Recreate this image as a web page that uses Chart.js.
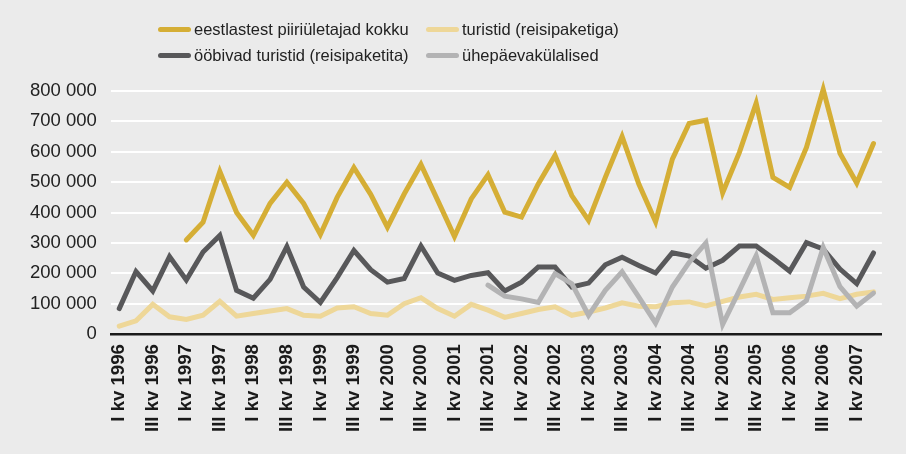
<!DOCTYPE html>
<html>
<head>
<meta charset="utf-8">
<script src="https://cdn.jsdelivr.net/npm/chart.js@4/dist/chart.umd.min.js"></script>
<style>
  body { margin: 0; background: #ebebeb; }
  #wrap { position: relative; width: 906px; height: 454px; }
  #legend { position: absolute; left: 158px; top: 19px; display: grid; grid-template-columns: 268px 200px; row-gap: 5px;
            font-family: "Liberation Sans", Arial, sans-serif; font-size: 16.5px; color: #222; }
  .item { display: flex; align-items: center; height: 21px; white-space: nowrap; }
  .sw { width: 33px; height: 5px; border-radius: 3px; margin-right: 3px; }
</style>
</head>
<body>
<div id="wrap">
  <canvas id="c"></canvas>
  <div id="legend"></div>
</div>
<script>
var quarters = [
  'I kv 1996','II kv 1996','III kv 1996','IV kv 1996',
  'I kv 1997','II kv 1997','III kv 1997','IV kv 1997',
  'I kv 1998','II kv 1998','III kv 1998','IV kv 1998',
  'I kv 1999','II kv 1999','III kv 1999','IV kv 1999',
  'I kv 2000','II kv 2000','III kv 2000','IV kv 2000',
  'I kv 2001','II kv 2001','III kv 2001','IV kv 2001',
  'I kv 2002','II kv 2002','III kv 2002','IV kv 2002',
  'I kv 2003','II kv 2003','III kv 2003','IV kv 2003',
  'I kv 2004','II kv 2004','III kv 2004','IV kv 2004',
  'I kv 2005','II kv 2005','III kv 2005','IV kv 2005',
  'I kv 2006','II kv 2006','III kv 2006','IV kv 2006',
  'I kv 2007','II kv 2007'
];

// eestlastest piiriületajad kokku
var kokku = [null, null, null, null,
  310000, 368000, 535000, 400000,
  325000, 430000, 500000, 430000,
  328000, 450000, 548000, 460000,
  352000, 461000, 558000, 440000,
  321000, 445000, 524000, 401000,
  385000, 494000, 588000, 456000,
  374000, 516000, 650000, 494000,
  370000, 576000, 693000, 704000,
  465000, 598000, 760000, 516000,
  483000, 614000, 805000, 595000,
  497000, 627000];

// turistid (reisipaketiga)
var paketiga = [26000, 44000, 98000, 57000,
  48000, 62000, 108000, 59000,
  68000, 76000, 84000, 62000,
  59000, 86000, 90000, 68000,
  62000, 100000, 120000, 84000,
  59000, 98000, 79000, 55000,
  68000, 81000, 90000, 62000,
  73000, 86000, 103000, 92000,
  90000, 103000, 106000, 93000,
  108000, 122000, 131000, 114000,
  120000, 125000, 134000, 117000,
  131000, 139000];

// ööbivad turistid (reisipaketita)
var paketita = [84000, 206000, 142000, 255000,
  178000, 270000, 325000, 144000,
  118000, 180000, 288000, 155000,
  104000, 186000, 275000, 212000,
  171000, 183000, 290000, 201000,
  177000, 193000, 202000, 142000,
  171000, 221000, 221000, 155000,
  168000, 228000, 253000, 226000,
  201000, 268000, 257000, 217000,
  243000, 290000, 290000, 250000,
  207000, 301000, 280000, 214000,
  166000, 267000];

// ühepäevakülalised
var paevased = [null, null, null, null, null, null, null, null, null, null,
  null, null, null, null, null, null, null, null, null, null, null, null,
  161000, 125000, 116000, 104000,
  199000, 166000, 62000, 144000,
  205000, 122000, 36000, 155000,
  236000, 300000, 32000, 144000,
  258000, 70000, 70000, 111000,
  285000, 156000, 92000, 135000];

var yTicks = [0, 100000, 200000, 300000, 400000, 500000, 600000, 700000, 800000];

var series = [
  { label: 'eestlastest piiriületajad kokku', data: kokku, color: '#d5ae35' },
  { label: 'turistid (reisipaketiga)', data: paketiga, color: '#eed798' },
  { label: 'ööbivad turistid (reisipaketita)', data: paketita, color: '#58585a' },
  { label: 'ühepäevakülalised', data: paevased, color: '#b3b3b4' }
];

var font = '"Liberation Sans", Arial, sans-serif';

new Chart(document.getElementById('c'), {
  type: 'line',
  data: {
    labels: quarters,
    datasets: series.slice().reverse().map(function (s) {
      return {
        label: s.label, data: s.data,
        borderColor: s.color, backgroundColor: s.color,
        borderWidth: 5, pointRadius: 0, tension: 0,
        borderCapStyle: 'round', borderJoinStyle: 'miter',
        spanGaps: false, clip: false
      };
    })
  },
  options: {
    responsive: true,
    maintainAspectRatio: false,
    animation: false,
    layout: { padding: { top: 91, left: 16, right: 17, bottom: 12 } },
    plugins: { legend: { display: false }, tooltip: { enabled: false } },
    scales: {
      x: {
        offset: true,
        grid: { display: false, drawTicks: false },
        border: { display: true, color: '#1a1a1a', width: 2.5 },
        ticks: {
          autoSkip: false, minRotation: 90, maxRotation: 90, padding: 10,
          color: '#1a1a1a', font: { family: font, size: 18.6, weight: 'bold' },
          callback: function (v, i) { return i % 2 === 0 ? quarters[i] : ''; }
        }
      },
      y: {
        min: 0, max: 800000,
        afterBuildTicks: function (axis) { axis.ticks = yTicks.map(function (v) { return { value: v }; }); },
        grid: {
          drawTicks: false, lineWidth: 2,
          color: function (ctx) { return ctx.tick && ctx.tick.value === 0 ? 'rgba(0,0,0,0)' : '#ffffff'; }
        },
        border: { display: false },
        ticks: {
          padding: 14, color: '#222',
          font: { family: font, size: 18.5 },
          callback: function (v) { return String(v).replace(/\B(?=(\d{3})+(?!\d))/g, ' '); }
        }
      }
    }
  }
});

var legend = document.getElementById('legend');
[0, 1, 2, 3].forEach(function (i) {
  var s = series[i];
  var el = document.createElement('div');
  el.className = 'item';
  el.innerHTML = '<span class="sw" style="background:' + s.color + '"></span><span>' + s.label + '</span>';
  legend.appendChild(el);
});
</script>
</body>
</html>
